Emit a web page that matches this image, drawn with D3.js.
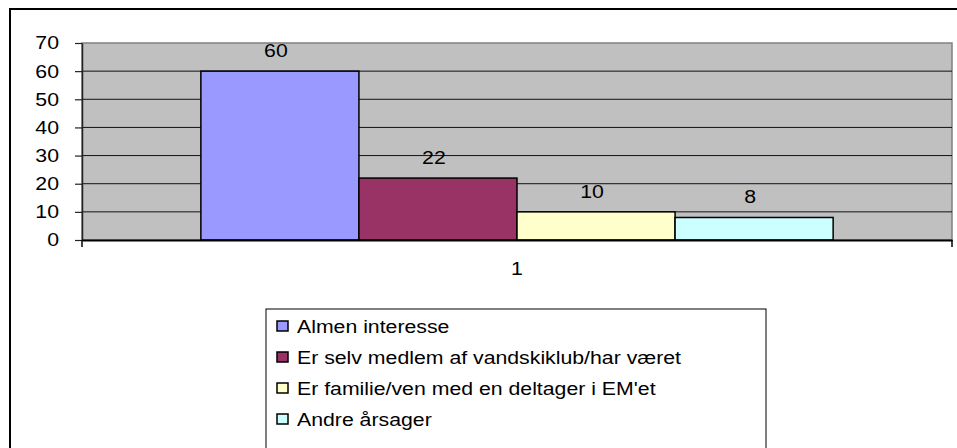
<!DOCTYPE html>
<html>
<head>
<meta charset="utf-8">
<script src="https://cdn.jsdelivr.net/npm/d3@7"></script>
<style>
  body { margin: 0; background: #fff; }
  text { font-family: "Liberation Sans", Arial, sans-serif; fill: #000; }
</style>
</head>
<body>
<div id="chart"></div>
<script>
// data
var categories = ["1"];
var seriesNames = ["Almen interesse", "Er selv medlem af vandskiklub/har været", "Er familie/ven med en deltager i EM'et", "Andre årsager"];
var seriesValues = [60, 22, 10, 8];
var seriesColors = ["#9999ff", "#993366", "#ffffcc", "#ccffff"];
var yTicks = [0, 10, 20, 30, 40, 50, 60, 70];

var W = 957, H = 448;
var plot = {left: 82, top: 43, right: 952, bottom: 240};
var fontSize = "18.5px";
var stretch = 1.15; // the original picture is widened, so is its text

var svg = d3.select("#chart").append("svg")
    .attr("width", W)
    .attr("height", H);

// outer chart frame
svg.append("rect")
    .attr("x", 10).attr("y", 9)
    .attr("width", W + 20).attr("height", H + 20)
    .attr("fill", "#fff")
    .attr("stroke", "#000")
    .attr("stroke-width", 2);

var x0 = d3.scaleBand()
    .domain(categories)
    .range([plot.left, plot.right])
    .paddingInner(0)
    .paddingOuter(0.188);

var x1 = d3.scaleBand()
    .domain(seriesNames)
    .range([0, x0.bandwidth()]);

var y = d3.scaleLinear()
    .domain([0, 70])
    .range([plot.bottom, plot.top]);

// plot area background
svg.append("rect")
    .attr("x", plot.left).attr("y", plot.top)
    .attr("width", plot.right - plot.left)
    .attr("height", plot.bottom - plot.top)
    .attr("fill", "#c0c0c0")
    .attr("stroke", "#808080")
    .attr("stroke-width", 1.5);

// gridlines
svg.append("g")
    .selectAll("line")
    .data(yTicks.filter(function(d) { return d > 0 && d < 70; }))
    .enter()
    .append("line")
    .attr("x1", plot.left).attr("x2", plot.right)
    .attr("y1", function(d) { return y(d); })
    .attr("y2", function(d) { return y(d); })
    .attr("stroke", "#111")
    .attr("stroke-width", 1);

// y axis
var yAxis = svg.append("g")
    .attr("transform", "translate(" + plot.left + ",0)")
    .call(d3.axisLeft(y).tickValues(yTicks).tickSize(7).tickPadding(16).tickSizeOuter(0));
yAxis.select(".domain").attr("stroke", "#222").attr("stroke-width", 1.5);
yAxis.selectAll(".tick line").attr("stroke", "#222").attr("stroke-width", 1.2);
yAxis.selectAll("text").style("font-size", fontSize).attr("fill", "#000");

// bars
var groups = svg.append("g")
    .selectAll("g")
    .data(categories)
    .enter()
    .append("g")
    .attr("transform", function(d) { return "translate(" + x0(d) + ",0)"; });

groups.selectAll("rect")
    .data(seriesNames.map(function(n, i) { return {name: n, value: seriesValues[i], color: seriesColors[i]}; }))
    .enter()
    .append("rect")
    .attr("x", function(d) { return x1(d.name); })
    .attr("y", function(d) { return y(d.value); })
    .attr("width", x1.bandwidth())
    .attr("height", function(d) { return y(0) - y(d.value); })
    .attr("fill", function(d) { return d.color; })
    .attr("stroke", "#000")
    .attr("stroke-width", 1.5);

groups.selectAll("text.val")
    .data(seriesNames.map(function(n, i) { return {name: n, value: seriesValues[i]}; }))
    .enter()
    .append("text")
    .attr("class", "val")
    .attr("x", function(d) { return x1(d.name) + x1.bandwidth() / 2 - 4; })
    .attr("y", function(d) { return y(d.value) - 14; })
    .attr("text-anchor", "middle")
    .style("font-size", fontSize)
    .text(function(d) { return d.value; });

// x axis
var xAxis = svg.append("g")
    .attr("transform", "translate(0," + plot.bottom + ")")
    .call(d3.axisBottom(x0).tickSize(0).tickPadding(22).tickSizeOuter(0));
xAxis.select(".domain").attr("stroke", "#000").attr("stroke-width", 2);
xAxis.selectAll("text").style("font-size", fontSize).attr("fill", "#000");
// end tick marks at both ends of the category axis
xAxis.selectAll("line.edge")
    .data([plot.left, plot.right])
    .enter()
    .append("line")
    .attr("class", "edge")
    .attr("x1", function(d) { return d; }).attr("x2", function(d) { return d; })
    .attr("y1", 0).attr("y2", 7)
    .attr("stroke", "#000").attr("stroke-width", 1.5);

// legend
var legend = svg.append("g")
    .attr("transform", "translate(266,309)");
legend.append("rect")
    .attr("x", 0).attr("y", 0)
    .attr("width", 500).attr("height", 160)
    .attr("fill", "#fff")
    .attr("stroke", "#000")
    .attr("stroke-width", 1);

var items = legend.selectAll("g.item")
    .data(seriesNames)
    .enter()
    .append("g")
    .attr("class", "item")
    .attr("transform", function(d, i) { return "translate(0," + (17 + i * 31) + ")"; });

items.append("rect")
    .attr("x", 11).attr("y", -5)
    .attr("width", 11).attr("height", 10)
    .attr("fill", function(d, i) { return seriesColors[i]; })
    .attr("stroke", "#000")
    .attr("stroke-width", 1.5);

items.append("text")
    .attr("x", 31)
    .attr("y", 6.5)
    .style("font-size", fontSize)
    .text(function(d) { return d; });

// widen every text around its own anchor
svg.selectAll("text").each(function() {
    var t = d3.select(this);
    var tx = +t.attr("x") || 0;
    t.attr("transform", "translate(" + (tx * (1 - stretch)) + ",0) scale(" + stretch + ",1)");
});
</script>
</body>
</html>
